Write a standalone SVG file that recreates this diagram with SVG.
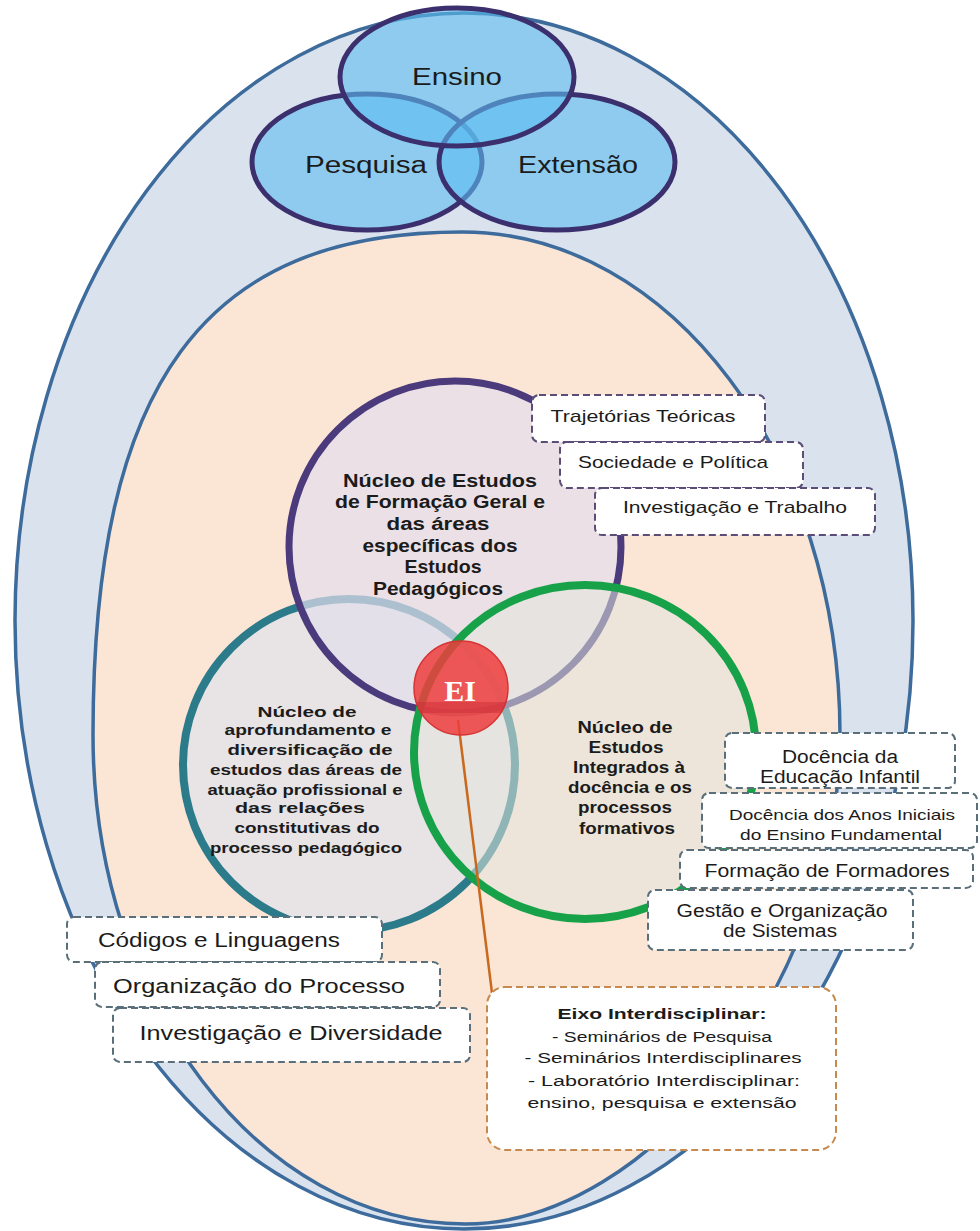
<svg xmlns="http://www.w3.org/2000/svg" width="980" height="1231" viewBox="0 0 980 1231">
<style>
text{font-family:"Liberation Sans",Arial,sans-serif;fill:#1b1b1b;text-anchor:middle}
.top{font-size:23.5px}
.np{font-weight:bold;font-size:18px}
.nt{font-weight:bold;font-size:15.5px}
.ng{font-weight:bold;font-size:16px}
.s17{font-size:17px}
.s18{font-size:18px}
.s15{font-size:15px}
.s20{font-size:20px}
.s155{font-size:15.5px}
.bold{font-weight:bold}
.bx{fill:#fff;stroke-width:2;stroke-dasharray:7 4}
.bp{stroke:#5b4d78}
.bt{stroke:#5b6f7a}
.bo{stroke:#c68a50}
.tc{fill:#5cbcf0;fill-opacity:0.6;stroke:#3b2f6e;stroke-width:5}
.ring{stroke:#3d6b9c;stroke-width:3.5}
</style>
<defs>
<clipPath id="eiclip"><circle cx="461" cy="688" r="47"/></clipPath>
</defs>
<g id="outer-ellipse">
<ellipse class="ring" cx="464" cy="621" rx="449" ry="608" fill="#dae2ee"/>
</g>
<g id="inner-ellipse">
<path class="ring" fill="#fbe5d5" d="M 462 232 C 671 232 840 457 840 735 C 840 980 652 1224 465 1224 C 260 1224 93 1005 93 735 C 93 383 204 232 462 232 Z"/>
</g>
<g id="pesquisa">
<ellipse class="tc" cx="367" cy="162" rx="115" ry="68"/>
</g>
<g id="extensao">
<ellipse class="tc" cx="557" cy="162" rx="118" ry="68"/>
</g>
<g id="ensino">
<ellipse class="tc" cx="457" cy="77" rx="117" ry="69"/>
</g>
<g id="top-labels">
<text class="top" x="457" y="85" textLength="90" lengthAdjust="spacingAndGlyphs">Ensino</text>
<text class="top" x="366" y="173" textLength="122" lengthAdjust="spacingAndGlyphs">Pesquisa</text>
<text class="top" x="578" y="173" textLength="120" lengthAdjust="spacingAndGlyphs">Extensão</text>
</g>
<g id="nucleo-aprofundamento">
<circle cx="349" cy="765" r="166" fill="#dfe2ea" fill-opacity="0.7" stroke="#2c7b8b" stroke-width="8"/>
</g>
<g id="nucleo-formacao-geral">
<circle cx="455" cy="547" r="166" fill="#e2deec" fill-opacity="0.7" stroke="#4b3a7c" stroke-width="7"/>
</g>
<g id="nucleo-estudos-integrados">
<ellipse cx="585" cy="752" rx="171" ry="167" fill="#e2e6dc" fill-opacity="0.55" stroke="#17a24a" stroke-width="8"/>
</g>
<g id="connectors">
<line x1="458" y1="720" x2="492" y2="993" stroke="#c8691e" stroke-width="2.5"/>
</g>
<g id="ei">
<circle cx="461" cy="688" r="47" fill="#ee3d3d" fill-opacity="0.85" stroke="#d63434" stroke-width="1.5"/>
<rect x="410" y="702" width="102" height="11" fill="#c92a35" fill-opacity="0.45" clip-path="url(#eiclip)"/>
<text x="460" y="701" style="font-family:'Liberation Serif','Times New Roman',serif;font-weight:bold;font-size:30px;fill:#ffffff">EI</text>
</g>
<g id="nucleo-formacao-geral-label">
<text class="np" x="440" y="487" textLength="194" lengthAdjust="spacingAndGlyphs">Núcleo de Estudos</text>
<text class="np" x="440" y="508" textLength="210" lengthAdjust="spacingAndGlyphs">de Formação Geral e</text>
<text class="np" x="438" y="530" textLength="103" lengthAdjust="spacingAndGlyphs">das áreas</text>
<text class="np" x="440" y="552" textLength="155" lengthAdjust="spacingAndGlyphs">específicas dos</text>
<text class="np" x="443" y="573" textLength="77" lengthAdjust="spacingAndGlyphs">Estudos</text>
<text class="np" x="438" y="595" textLength="130" lengthAdjust="spacingAndGlyphs">Pedagógicos</text>
</g>
<g id="nucleo-aprofundamento-label">
<text class="nt" x="307" y="717" textLength="99" lengthAdjust="spacingAndGlyphs">Núcleo de</text>
<text class="nt" x="308" y="735" textLength="167" lengthAdjust="spacingAndGlyphs">aprofundamento e</text>
<text class="nt" x="310" y="755" textLength="165" lengthAdjust="spacingAndGlyphs">diversificação de</text>
<text class="nt" x="306" y="775" textLength="192" lengthAdjust="spacingAndGlyphs">estudos das áreas de</text>
<text class="nt" x="305" y="795" textLength="195" lengthAdjust="spacingAndGlyphs">atuação profissional e</text>
<text class="nt" x="300" y="813" textLength="130" lengthAdjust="spacingAndGlyphs">das relações</text>
<text class="nt" x="307" y="833" textLength="145" lengthAdjust="spacingAndGlyphs">constitutivas do</text>
<text class="nt" x="306" y="853" textLength="192" lengthAdjust="spacingAndGlyphs">processo pedagógico</text>
</g>
<g id="nucleo-estudos-integrados-label">
<text class="ng" x="625" y="733" textLength="95" lengthAdjust="spacingAndGlyphs">Núcleo de</text>
<text class="ng" x="626" y="753" textLength="75" lengthAdjust="spacingAndGlyphs">Estudos</text>
<text class="ng" x="629" y="773" textLength="112" lengthAdjust="spacingAndGlyphs">Integrados à</text>
<text class="ng" x="630" y="793" textLength="124" lengthAdjust="spacingAndGlyphs">docência e os</text>
<text class="ng" x="625" y="813" textLength="94" lengthAdjust="spacingAndGlyphs">processos</text>
<text class="ng" x="627" y="834" textLength="96" lengthAdjust="spacingAndGlyphs">formativos</text>
</g>
<g id="box-trajetorias">
<rect class="bx bp" x="532" y="395" width="233" height="47" rx="7"/>
<text class="s17" x="643" y="422" textLength="185" lengthAdjust="spacingAndGlyphs">Trajetórias Teóricas</text>
</g>
<g id="box-sociedade">
<rect class="bx bp" x="560" y="442" width="243" height="46" rx="7"/>
<text class="s17" x="673" y="468" textLength="190" lengthAdjust="spacingAndGlyphs">Sociedade e Política</text>
</g>
<g id="box-investigacao-trabalho">
<rect class="bx bp" x="595" y="488" width="280" height="47" rx="7"/>
<text class="s17" x="735" y="513" textLength="224" lengthAdjust="spacingAndGlyphs">Investigação e Trabalho</text>
</g>
<g id="box-educacao-infantil">
<rect class="bx bt" x="725" y="733" width="230" height="55" rx="7"/>
<text class="s18" x="840" y="763" textLength="116" lengthAdjust="spacingAndGlyphs">Docência da</text>
<text class="s18" x="840" y="783" textLength="160" lengthAdjust="spacingAndGlyphs">Educação Infantil</text>
</g>
<g id="box-anos-iniciais">
<rect class="bx bt" x="702" y="793" width="275" height="55" rx="7"/>
<text class="s15" x="842" y="820" textLength="226" lengthAdjust="spacingAndGlyphs">Docência dos Anos Iniciais</text>
<text class="s15" x="841" y="840" textLength="202" lengthAdjust="spacingAndGlyphs">do Ensino Fundamental</text>
</g>
<g id="box-formacao-formadores">
<rect class="bx bt" x="680" y="850" width="293" height="38" rx="7"/>
<text class="s18" x="827" y="877" textLength="245" lengthAdjust="spacingAndGlyphs">Formação de Formadores</text>
</g>
<g id="box-gestao">
<rect class="bx bt" x="648" y="890" width="265" height="60" rx="7"/>
<text class="s18" x="782" y="917" textLength="211" lengthAdjust="spacingAndGlyphs">Gestão e Organização</text>
<text class="s18" x="780" y="937" textLength="114" lengthAdjust="spacingAndGlyphs">de Sistemas</text>
</g>
<g id="box-codigos">
<rect class="bx bt" x="67" y="917" width="315" height="45" rx="7"/>
<text class="s20" x="219" y="947" textLength="242" lengthAdjust="spacingAndGlyphs">Códigos e Linguagens</text>
</g>
<g id="box-organizacao">
<rect class="bx bt" x="95" y="962" width="345" height="45" rx="7"/>
<text class="s20" x="259" y="993" textLength="292" lengthAdjust="spacingAndGlyphs">Organização do Processo</text>
</g>
<g id="box-investigacao-diversidade">
<rect class="bx bt" x="113" y="1008" width="357" height="54" rx="7"/>
<text class="s20" x="291" y="1040" textLength="303" lengthAdjust="spacingAndGlyphs">Investigação e Diversidade</text>
</g>
<g id="box-eixo">
<rect class="bx bo" x="487" y="987" width="349" height="163" rx="18"/>
<text class="s155 bold" x="662" y="1019" textLength="209" lengthAdjust="spacingAndGlyphs">Eixo Interdisciplinar:</text>
<text class="s155" x="662" y="1042" textLength="220" lengthAdjust="spacingAndGlyphs">- Seminários de Pesquisa</text>
<text class="s155" x="663" y="1063" textLength="277" lengthAdjust="spacingAndGlyphs">- Seminários Interdisciplinares</text>
<text class="s155" x="664" y="1086" textLength="272" lengthAdjust="spacingAndGlyphs">- Laboratório Interdisciplinar:</text>
<text class="s155" x="662" y="1108" textLength="269" lengthAdjust="spacingAndGlyphs">ensino, pesquisa e extensão</text>
</g>
</svg>
